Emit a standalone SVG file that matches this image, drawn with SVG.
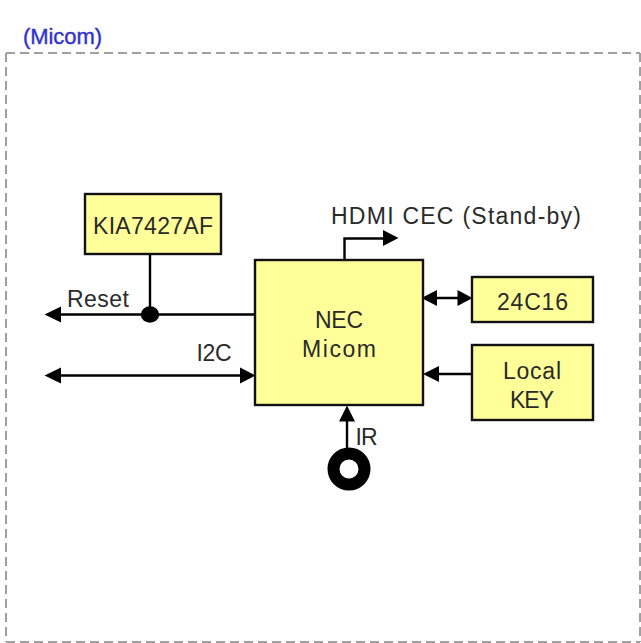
<svg xmlns="http://www.w3.org/2000/svg" width="641" height="643" viewBox="0 0 641 643">
<style>
text{font-family:"Liberation Sans","Noto Sans CJK KR",sans-serif;font-size:23px;fill:#2a2a2a}
.box{fill:#ffff99;stroke:#111;stroke-width:2.400}
.ln{fill:none;stroke:#000;stroke-width:2.400}
.ah{fill:#000}
</style>
<rect width="641" height="643" fill="#fff"/>
<path id="frame" d="M6 53H640M6 53V642M640 53V642M6 642H640" fill="none" stroke="#a0a0a0" stroke-width="2" stroke-dasharray="9 5"/>
<text id="title" x="23" y="44" textLength="79" style="fill:#3333cc;font-size:22px;stroke:#3333cc;stroke-width:0.400">(Micom)</text>
<g id="connectors">
<path class="ln" d="M150 254V314M60 314.500H255M60 375.500H241M344.500 259V238.500H385M436 298H458M472 374H436M347 420V462"/>
<path class="ah" d="M44.500 314.500L61 306.500V322.500Z"/>
<path class="ah" d="M44.500 375.500L61 367.500V383.500Z"/>
<path class="ah" d="M255.500 375.500L240 367.500V383.500Z"/>
<path class="ah" d="M398.500 238L383 230V246Z"/>
<path class="ah" d="M421.500 298L437 290V306Z"/>
<path class="ah" d="M472.500 298L457.500 290V306Z"/>
<path class="ah" d="M423 374L439 366V382Z"/>
<path class="ah" d="M347 405.500L339 421.500H355Z"/>
<ellipse class="ah" cx="150" cy="314.500" rx="9.200" ry="8.200"/>
</g>
<g id="kia"><rect class="box" x="85" y="194" width="136" height="60"/><text x="93" y="234" textLength="120">KIA7427AF</text></g>
<g id="nec"><rect class="box" x="255" y="260" width="168" height="145"/><text x="315" y="328" textLength="48">NEC</text><text x="302" y="357" textLength="74">Micom</text></g>
<g id="eeprom"><rect class="box" x="472" y="277" width="121" height="45"/><text x="497" y="310" textLength="71">24C16</text></g>
<g id="key"><rect class="box" x="472" y="345" width="121" height="75"/><text x="503" y="379" textLength="58">Local</text><text x="510" y="408" textLength="44">KEY</text></g>
<g id="ir"><circle cx="349" cy="469" r="15.500" fill="#fff" stroke="#000" stroke-width="12"/></g>
<text x="331" y="224" textLength="250">HDMI CEC (Stand-by)</text>
<text x="67" y="307" textLength="62">Reset</text>
<text x="196.500" y="361" textLength="35">I2C</text>
<text x="355.500" y="445" textLength="22">IR</text>
</svg>
